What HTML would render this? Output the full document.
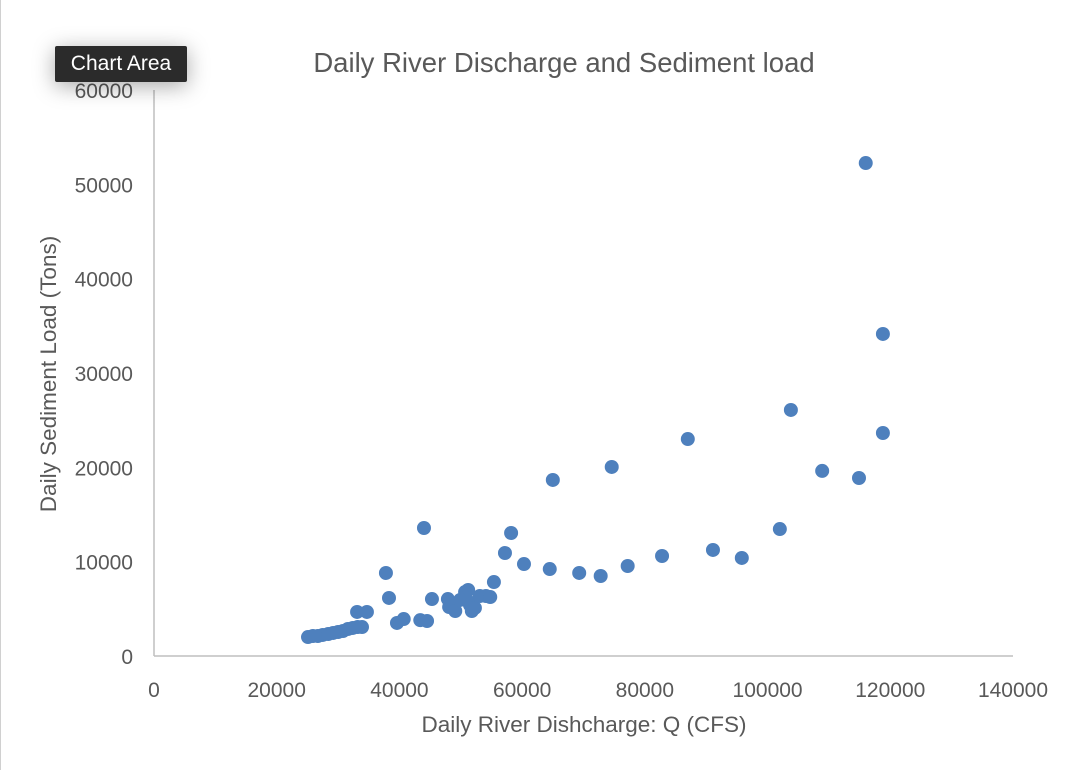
<!DOCTYPE html>
<html><head><meta charset="utf-8"><style>
body{margin:0;width:1072px;height:772px;background:#fff;overflow:hidden;font-family:"Liberation Sans",sans-serif;}
#frame{position:absolute;left:0;top:0;width:1070px;height:770px;border-left:1px solid #d0d0d0;}
#tip{position:absolute;left:55px;top:46px;width:132px;height:36px;background:#2b2b2b;color:#fff;font-size:21px;line-height:36px;text-align:center;border-radius:2px;box-shadow:0 4px 22px rgba(0,0,0,0.35);}
</style></head><body>
<div id="frame"></div>
<svg id="chart" width="1072" height="772" style="position:absolute;left:0;top:0"></svg>
<div id="tip">Chart Area</div>
<script>
const xVals=[25100,25900,26700,27500,28400,29200,30000,30800,31600,32400,33200,33900,33100,34700,37800,38300,39600,40700,43400,44500,44000,45300,47900,48100,49100,51200,51000,51500,51800,52300,53100,54100,54800,55400,57200,58200,60300,64500,65000,69300,72800,74600,77200,82800,87000,91100,95800,102000,103800,108900,114900,116000,118800,118800,50700,50800,49900];
const yVals=[2010,2120,2120,2230,2330,2440,2540,2650,2860,2970,3070,3070,4670,4670,8800,6150,3500,3920,3800,3710,13570,6040,6040,5190,4770,7000,5940,5400,4770,5090,6360,6360,6250,7840,10920,13040,9750,9220,18660,8800,8480,20040,9540,10600,23000,11240,10390,13460,26080,19620,18870,52260,34140,23640,6780,6150,5940];
const xTicks=[0,20000,40000,60000,80000,100000,120000,140000];
const yTicks=[0,10000,20000,30000,40000,50000,60000];
const NS="http://www.w3.org/2000/svg";
const svg=document.getElementById('chart');
const X0=154,X1=1013,Y0=656,Y1=90;
const sx=v=>X0+(v/140000)*(X1-X0);
const sy=v=>Y0-(v/60000)*(Y0-Y1);
function mk(t,a){const e=document.createElementNS(NS,t);for(const k in a)e.setAttribute(k,a[k]);svg.appendChild(e);return e;}
let t=mk('text',{x:564,y:72,'text-anchor':'middle','font-size':27.5,fill:'#595959'});t.textContent='Daily River Discharge and Sediment load';


let a=mk('line',{x1:X0,y1:Y1,x2:X0,y2:Y0,stroke:'#bfbfbf','stroke-width':1.5});


a=mk('line',{x1:X0,y1:Y0,x2:X1,y2:Y0,stroke:'#bfbfbf','stroke-width':1.5});


xTicks.forEach(v=>{const e=mk('text',{x:sx(v),y:697,'text-anchor':'middle','font-size':21,fill:'#595959'});e.textContent=v;

});
yTicks.forEach(v=>{const e=mk('text',{x:133,y:sy(v)+8,'text-anchor':'end','font-size':21,fill:'#595959'});e.textContent=v;

});
t=mk('text',{x:584,y:732,'text-anchor':'middle','font-size':22.5,fill:'#595959'});t.textContent='Daily River Dishcharge: Q (CFS)';


t=mk('text',{x:0,y:0,'text-anchor':'middle','font-size':22.5,fill:'#595959',transform:'translate(56,374) rotate(-90)'});t.textContent='Daily Sediment Load (Tons)';


xVals.forEach((v,i)=>{const c=mk('circle',{cx:sx(v),cy:sy(yVals[i]),r:7,fill:'#4e80bd'});

});
</script>
</body></html>
